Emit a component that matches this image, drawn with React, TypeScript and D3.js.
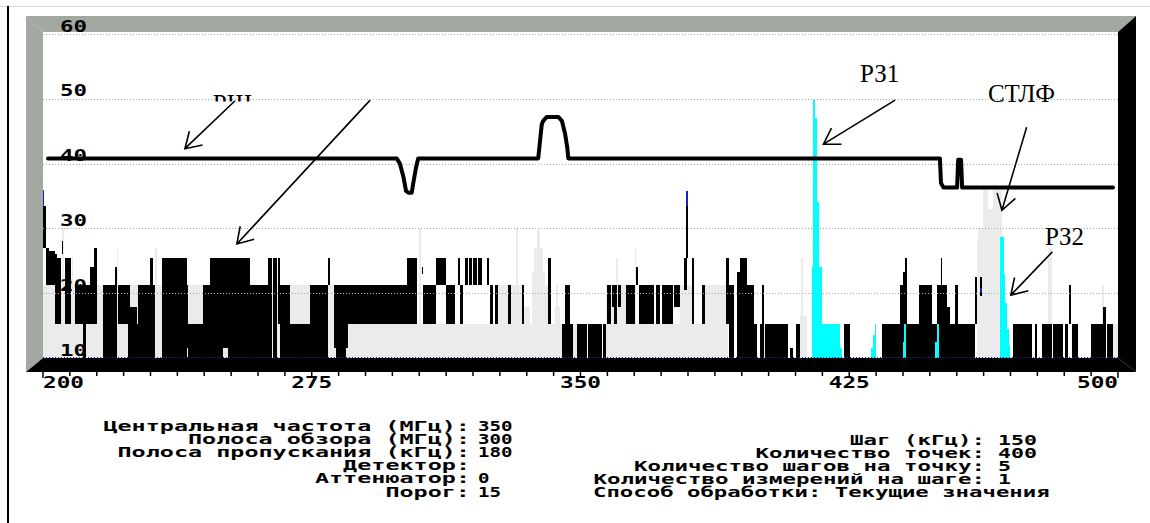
import * as d3 from "d3";

// axis
const yTicks = [10, 20, 30, 40, 50, 60];
const xLabels = [200, 275, 350, 425, 500];

// current values, drawn black: [f0, f1, lo, hi] (MHz, dB)
const blackBars = [
  [200.0, 200.8, 27, 33.5], [200.8, 201.8, 21.2, 27], [201.8, 203.3, 21.2, 26.5],
  [203.3, 203.8, 15.2, 26], [203.8, 204.9, 15.2, 25.4], [205.2, 205.7, 26, 28],
  [206.1, 207.7, 15.2, 25.4], [208.9, 211.1, 15.2, 21.2], [211.1, 212.1, 10, 21.2],
  [212.1, 213.1, 15.2, 21.2], [213.1, 214.3, 15.2, 24.1], [214.3, 215.0, 15.2, 26.9],
  [216.7, 220.1, 10, 21.2], [220.1, 220.7, 10, 24.1], [221.0, 223.8, 15.2, 21.2],
  [223.8, 224.3, 10, 21.2], [224.3, 226.1, 10, 17.9], [226.1, 226.6, 10, 15.2],
  [226.6, 229.9, 10, 21.2], [229.9, 230.8, 10, 25.4], [230.8, 231.3, 10, 21.2],
  [233.1, 240.1, 10, 25.4], [240.1, 240.6, 11.5, 21.2], [240.6, 244.7, 10, 15.2],
  [244.7, 246.6, 10, 21.2], [246.6, 250.3, 10, 25.4], [250.3, 251.7, 11.5, 25.4],
  [251.7, 257.8, 10, 25.4], [257.8, 262.9, 10, 21.2], [262.9, 263.9, 10, 25.4],
  [264.3, 265.3, 10, 25.4], [265.7, 266.1, 15.2, 25.4], [266.1, 268.9, 10, 21.2],
  [268.9, 274.5, 10, 15.2], [274.5, 279.6, 10, 21.2], [279.6, 280.1, 21.2, 25.4],
  [281.2, 299.2, 15.2, 21.2], [281.2, 285.2, 11.5, 21.2], [281.9, 284.5, 10, 21.2],
  [299.2, 301.5, 15.2, 21.2], [301.5, 304.3, 15.2, 25.4], [305.7, 306.1, 22.9, 24.1],
  [306.1, 309.7, 15.2, 21.2], [309.7, 312.6, 21.2, 25.4], [312.6, 315.0, 15.2, 21.2],
  [315.7, 316.4, 21.2, 25.4], [316.4, 317.1, 15.2, 21.2], [317.8, 318.5, 21.2, 25.4],
  [318.9, 319.6, 21.2, 25.4], [320.1, 321.0, 21.2, 25.4], [321.5, 322.4, 21.2, 25.4],
  [323.8, 324.5, 21.2, 25.4], [324.7, 325.7, 15.2, 21.2], [326.1, 327.1, 15.2, 21.2],
  [329.8, 330.6, 15.2, 21.2], [333.6, 334.3, 15.2, 21.2], [341.0, 341.9, 15.2, 25.4],
  [344.7, 345.7, 10, 15.2], [345.7, 347.1, 10, 21.2], [347.1, 348.0, 10, 15.2],
  [348.9, 351.8, 10, 15.2], [352.2, 355.9, 10, 15.2], [356.4, 357.2, 10, 15.2],
  [357.5, 358.5, 15.2, 21.2], [358.7, 359.4, 17.9, 21.2], [359.4, 360.1, 15.2, 21.2],
  [360.6, 361.2, 17.9, 21.2], [362.6, 365.3, 15.2, 21.2], [365.5, 366.1, 21.2, 24.1],
  [366.2, 370.6, 15.2, 21.2], [371.1, 372.2, 15.2, 21.2], [372.7, 375.9, 15.2, 21.2],
  [376.2, 377.8, 17.9, 21.2], [379.0, 379.6, 20.5, 25.4], [379.5, 380.0, 25.4, 33.5],
  [381.1, 381.8, 15.2, 25.4], [383.9, 384.8, 15.2, 21.2], [390.6, 391.5, 15.2, 25.4],
  [391.5, 392.7, 10, 21.2], [393.6, 394.6, 10, 23.3], [394.6, 396.4, 10, 25.4],
  [396.4, 398.3, 10, 21.2], [398.3, 399.2, 10, 15.2], [400.0, 401.1, 10, 15.2],
  [400.6, 401.1, 15.2, 21.2], [401.5, 408.0, 10, 15.2], [408.5, 409.4, 10, 11.5],
  [410.2, 411.3, 10, 15.2], [423.4, 425.1, 10, 15.2], [434.0, 439.2, 10, 15.2],
  [439.2, 440.1, 10, 21.2], [440.1, 440.5, 10, 23.3], [440.5, 441.2, 10, 25.4],
  [441.2, 444.5, 10, 15.2], [444.5, 448.0, 10, 21.2], [448.0, 449.6, 10, 15.2],
  [449.6, 450.5, 10, 21.2], [450.5, 450.8, 10, 25.4], [450.8, 452.2, 10, 21.2],
  [452.2, 453.1, 10, 17.9], [453.1, 454.5, 10, 15.2], [454.5, 455.4, 10, 21.2],
  [455.4, 460.1, 10, 15.2], [460.1, 460.7, 15.2, 22.5], [461.5, 462.1, 19.5, 22.5],
  [470.8, 475.9, 10, 15.2], [476.8, 477.5, 10, 15.2], [478.7, 481.5, 10, 15.2],
  [481.9, 484.7, 10, 15.2], [485.2, 486.1, 10, 15.2], [486.4, 486.9, 15.2, 21.2],
  [487.1, 488.9, 10, 15.2], [492.6, 495.9, 10, 15.2], [495.9, 496.6, 10, 17.9],
  [496.8, 498.7, 10, 15.2],
];

// held values, light gray: [f0, f1, top]
const grayBars = [
  [200.0, 276.0, 21.2], [205.2, 205.9, 30], [208.0, 208.5, 25.4], [220.6, 221.0, 27],
  [231.3, 231.8, 27], [276.0, 300.5, 21.2], [300.5, 349.0, 15.2], [304.9, 305.4, 30],
  [326.6, 334.0, 21.2], [332.0, 332.5, 30], [334.0, 336.0, 17.9], [336.4, 337.0, 23.3],
  [337.0, 337.8, 27], [337.8, 338.7, 29.8], [338.7, 339.6, 27], [339.6, 340.1, 23.3],
  [340.1, 341.5, 21.2], [342.9, 344.3, 17.9], [343.2, 343.6, 21.2], [357.2, 391.3, 15.2],
  [357.2, 362.6, 21.2], [360.0, 360.6, 25.4], [365.1, 365.5, 27], [377.8, 381.1, 21.2],
  [384.8, 391.3, 21.2], [400.0, 401.5, 15.2], [411.3, 413.2, 16.5], [411.5, 412.0, 25.4],
  [460.6, 461.5, 28.3], [461.0, 462.4, 30], [462.4, 463.6, 36], [463.6, 465.0, 33],
  [465.0, 467.6, 36], [480.5, 481.5, 27], [495.4, 496.1, 21.2], [498.7, 500.0, 15.2],
];

// detected signals, cyan: [f0, f1, top]
const cyanBars = [
  [414.5, 422.5, 15.2], [422.5, 423.0, 11.5], [414.5, 415.0, 24], [415.0, 415.5, 49.8],
  [415.5, 416.1, 47], [416.1, 416.6, 34], [416.6, 417.3, 24],
  [431.0, 431.6, 11.5], [431.6, 432.1, 13.5], [432.1, 432.5, 15.2],
  [440.0, 440.4, 12.5], [440.4, 440.9, 15.2], [448.9, 449.4, 12.5], [449.4, 450.0, 15.2],
  [467.2, 468.1, 28.7], [468.1, 468.5, 23], [468.5, 469.0, 18.5], [469.0, 469.5, 14.5],
  [469.5, 469.9, 12],
];

// blue tips over the tallest black lines: [f0, f1, lo, hi]
const blueBars = [
  [200.0, 200.4, 33.5, 36],
  [379.5, 380.0, 33.5, 35.8],
  [461.6, 462.0, 20.2, 20.8],
];

// threshold line
const thresholdF = [201.4, 298.7, 299.6, 300.6, 301.3, 302.0, 302.9, 303.3, 304.1, 304.7,
  338.2, 339.2, 339.6, 340.6, 343.8, 344.8, 345.7, 346.3, 346.6,
  450.3, 450.6, 451.3, 455.1, 455.4, 456.2, 456.5, 498.6];
const thresholdV = [40.8, 40.8, 40.0, 37.9, 35.8, 35.5, 35.5, 36.9, 39.4, 40.8,
  40.8, 46.1, 46.6, 47.2, 47.2, 46.6, 44.6, 42.5, 40.8,
  40.8, 37.0, 36.3, 36.3, 40.6, 40.6, 36.3, 36.3];

// parameters block
const leftLabels = ["Центральная частота (МГц):", "Полоса обзора (МГц):", "Полоса пропускания (кГц):",
  "Детектор:", "Аттенюатор:", "Порог:"];
const leftValues = ["350", "300", "180", "", "0", "15"];
const rightLabels = ["Шаг (кГц):", "Количество точек:", "Количество шагов на точку:",
  "Количество измерений на шаге:"];
const rightValues = ["150", "400", "5", "1"];
const methodLine = "Способ обработки: Текущие значения";

const MONO = "'DejaVu Sans Mono', monospace";
const SERIF = "'Liberation Serif', 'Times New Roman', serif";

function arrowPath(x1: number, y1: number, x2: number, y2: number) {
  const a = Math.atan2(y1 - y2, x1 - x2);
  const len = 18, ang = (32 * Math.PI) / 180;
  const w1 = [x2 + len * Math.cos(a + ang), y2 + len * Math.sin(a + ang)];
  const w2 = [x2 + len * Math.cos(a - ang), y2 + len * Math.sin(a - ang)];
  return `M${x1},${y1}L${x2},${y2}M${w1[0]},${w1[1]}L${x2},${y2}L${w2[0]},${w2[1]}`;
}

export default function App() {
  const x = d3.scaleLinear().domain([200, 500]).range([43, 1118]);
  const y = d3.scaleLinear().domain([10, 60]).range([358, 34]);

  const L = 43, R = 1118, T = 32, B = 358;
  const oL = 26, oR = 1136, oT = 16, oB = 372;

  const thr = thresholdF.map((f, i) => [f, thresholdV[i]] as [number, number]);
  const line = d3.line<[number, number]>().x((d) => x(d[0])).y((d) => y(d[1]));

  const minorTicks = d3.range(200, 500.01, 7.5);

  // annotation arrows in data units: [fFrom, vFrom, fTip, vTip]
  const arrows = [
    [253.6, 49.7, 239.6, 42.3],
    [291.3, 49.8, 254.1, 27.6],
    [437.8, 49.8, 417.8, 43.0],
    [474.5, 45.6, 467.6, 32.8],
    [481.7, 26.4, 470.1, 19.7],
  ];

  const cwL = 14.1, cwR = 13.5, fs = 13.5;

  return (
    <svg width={1150} height={523} style={{ position: "absolute", left: 0, top: 0, background: "#fff" }}>
      <defs>
        <clipPath id="plot">
          <rect x={L} y={T} width={R - L} height={B - T} />
        </clipPath>
        <clipPath id="rsh">
          <rect x={200} y={88} width={60} height={13.5} />
        </clipPath>
      </defs>

      {/* page edges */}
      <line x1={0} x2={1150} y1={6.5} y2={6.5} stroke="#d9d9d9" />
      <line x1={8} x2={8} y1={6} y2={523} stroke="#000" strokeWidth={2} />

      {/* 3D frame */}
      <polygon points={`${oL},${oT} ${oR},${oT} ${R},${T} ${L},${T}`} fill="#a3a8a1" />
      <polygon points={`${oL},${oT} ${L},${T} ${L},${B} ${oL},${oB}`} fill="#a3a8a1" />
      <polygon points={`${oR},${oT} ${oR},${oB} ${R},${B} ${R},${T}`} fill="#000" />
      <polygon points={`${oL},${oB} ${L},${B} ${R},${B} ${oR},${oB}`} fill="#000" />
      <rect x={L} y={T} width={R - L} height={B - T} fill="#fff" />

      <g clipPath="url(#plot)" shapeRendering="crispEdges">
        {grayBars.map((d, i) => (
          <rect key={"g" + i} x={x(d[0])} width={x(d[1]) - x(d[0])} y={y(d[2])} height={y(10) - y(d[2])} fill="#ebebeb" />
        ))}
        {blackBars.map((d, i) => (
          <rect key={"b" + i} x={x(d[0])} width={x(d[1]) - x(d[0])} y={y(d[3])} height={y(d[2]) - y(d[3])} fill="#000" />
        ))}
        {cyanBars.map((d, i) => (
          <rect key={"c" + i} x={x(d[0])} width={x(d[1]) - x(d[0])} y={y(d[2])} height={y(10) - y(d[2])} fill="#00ffff" />
        ))}
        {blueBars.map((d, i) => (
          <rect key={"u" + i} x={x(d[0])} width={x(d[1]) - x(d[0])} y={y(d[3])} height={y(d[2]) - y(d[3])} fill="#1c1cc8" />
        ))}
      </g>

      {/* grid */}
      {yTicks.filter((t) => t > 10).map((t) => (
        <line key={t} x1={L} x2={R} y1={Math.round(y(t)) + 0.5} y2={Math.round(y(t)) + 0.5}
          stroke="#a8a8a8" strokeDasharray="1 2" />
      ))}
      <line x1={L} x2={R} y1={B - 0.5} y2={B - 0.5} stroke="#2a2aa8" strokeDasharray="1 2" />
      {yTicks.map((t) => (
        <text key={t} x={60} y={y(t) - 2.5} fontFamily={MONO} fontWeight="bold" fontSize={15}
          textLength={27} lengthAdjust="spacingAndGlyphs">{t}</text>
      ))}

      {/* threshold */}
      <path d={line(thr) || ""} fill="none" stroke="#000" strokeWidth={4} strokeLinejoin="round" strokeLinecap="round" />

      {/* annotations */}
      {arrows.map((a, i) => (
        <path key={i} d={arrowPath(x(a[0]), y(a[1]), x(a[2]), y(a[3]))} fill="none" stroke="#000" strokeWidth={1.6} />
      ))}
      <g fontFamily={SERIF} fontSize={25} fill="#000">
        <text x={x(247.4)} y={y(47.9)} clipPath="url(#rsh)">РШ</text>
        <text x={x(428.0)} y={y(52.6)}>РЗ1</text>
        <text x={x(463.7)} y={y(49.5)}>СТЛФ</text>
        <text x={x(479.6)} y={y(27.4)}>РЗ2</text>
      </g>

      {/* x axis */}
      {minorTicks.map((t, i) => (
        <line key={i} x1={x(t)} x2={x(t)} y1={oB} y2={oB + (i % 10 === 0 ? 6 : 4)} stroke="#000" strokeWidth={1.5} />
      ))}
      {xLabels.map((t, i) => {
        const anchor = i === 0 ? "start" : i === xLabels.length - 1 ? "end" : "middle";
        const x0 = anchor === "start" ? x(t) : anchor === "end" ? x(t) - 41 : x(t) - 20.5;
        return (
          <text key={t} x={x0} y={388} fontFamily={MONO} fontWeight="bold" fontSize={15}
            textLength={41} lengthAdjust="spacingAndGlyphs">{t}</text>
        );
      })}

      {/* parameters */}
      <g fontFamily={MONO} fontWeight="bold" fontSize={fs} fill="#000">
        {leftLabels.map((s, i) => (
          <text key={"ll" + i} x={470 - s.length * cwL} y={430.5 + i * 13.2}
            textLength={s.length * cwL} lengthAdjust="spacingAndGlyphs">{s}</text>
        ))}
        {leftValues.map((s, i) => s && (
          <text key={"lv" + i} x={478} y={430.5 + i * 13.2}
            textLength={s.length * 11.5} lengthAdjust="spacingAndGlyphs">{s}</text>
        ))}
        {rightLabels.map((s, i) => (
          <text key={"rl" + i} x={985 - s.length * cwR} y={445 + i * 13.1}
            textLength={s.length * cwR} lengthAdjust="spacingAndGlyphs">{s}</text>
        ))}
        {rightValues.map((s, i) => (
          <text key={"rv" + i} x={998} y={445 + i * 13.1}
            textLength={s.length * 13} lengthAdjust="spacingAndGlyphs">{s}</text>
        ))}
        <text x={593} y={445 + 4 * 13.1} textLength={methodLine.length * 13.43} lengthAdjust="spacingAndGlyphs">{methodLine}</text>
      </g>
    </svg>
  );
}
